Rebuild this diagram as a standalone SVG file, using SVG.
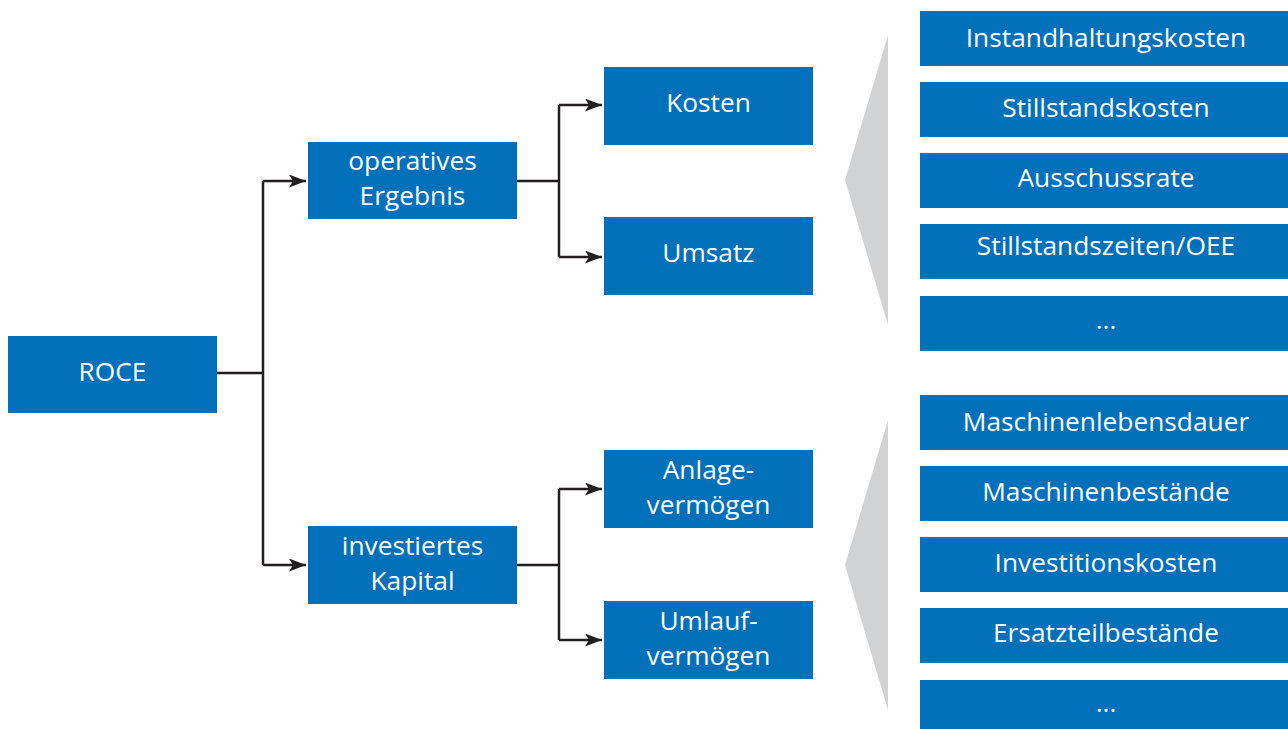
<svg xmlns="http://www.w3.org/2000/svg" width="1288" height="729" viewBox="0 0 1288 729">
<defs>
<style>
.box{fill:#0070BA}
.t{font-family:"Open Sans","Noto Sans","Liberation Sans",sans-serif;font-size:26.3px;fill:#FFFFFF;text-anchor:middle}
.c{fill:none;stroke:#231F20;stroke-width:2.5}
.g{fill:#D1D2D4}
</style>
<marker id="ah" markerUnits="userSpaceOnUse" markerWidth="18" markerHeight="14" refX="17" refY="6.5" orient="auto">
<path d="M0,0 L17,6.5 L0,13 L4,6.5 Z" fill="#231F20"/>
</marker>
</defs>
<rect width="1288" height="729" fill="#FFFFFF"/>
<polygon class="g" points="888,35 845,180 888,325"/>
<polygon class="g" points="888,420 845,565 888,710"/>
<g id="connectors">
<path class="c" d="M217,373 H263"/>
<path class="c" d="M263,181 V565"/>
<path class="c" d="M263,181 H306" marker-end="url(#ah)"/>
<path class="c" d="M263,565 H306" marker-end="url(#ah)"/>
<path class="c" d="M517,181 H559"/>
<path class="c" d="M559,105 V257"/>
<path class="c" d="M559,105 H602" marker-end="url(#ah)"/>
<path class="c" d="M559,257 H602" marker-end="url(#ah)"/>
<path class="c" d="M517,565 H559"/>
<path class="c" d="M559,489 V640"/>
<path class="c" d="M559,489 H602" marker-end="url(#ah)"/>
<path class="c" d="M559,640 H602" marker-end="url(#ah)"/>
</g>
<g id="roce"><rect class="box" x="8" y="336" width="209" height="77"/><text class="t" x="112.5" y="381">ROCE</text></g>
<g id="operatives-ergebnis"><rect class="box" x="308" y="142" width="209" height="77"/><text class="t" x="412.5" y="170">operatives</text><text class="t" x="412.5" y="205">Ergebnis</text></g>
<g id="investiertes-kapital"><rect class="box" x="308" y="526" width="209" height="78"/><text class="t" x="412.5" y="554.5">investiertes</text><text class="t" x="412.5" y="589.5">Kapital</text></g>
<g id="kosten"><rect class="box" x="604" y="67" width="209" height="78"/><text class="t" x="708.5" y="112">Kosten</text></g>
<g id="umsatz"><rect class="box" x="604" y="217" width="209" height="78"/><text class="t" x="708.5" y="262">Umsatz</text></g>
<g id="anlagevermoegen"><rect class="box" x="604" y="450" width="209" height="78"/><text class="t" x="708.5" y="478.5">Anlage-</text><text class="t" x="708.5" y="513.5">vermögen</text></g>
<g id="umlaufvermoegen"><rect class="box" x="604" y="601" width="209" height="78"/><text class="t" x="708.5" y="629.5">Umlauf-</text><text class="t" x="708.5" y="664.5">vermögen</text></g>
<g id="instandhaltungskosten"><rect class="box" x="920" y="11" width="368" height="55"/><text class="t" x="1106" y="47">Instandhaltungskosten</text></g>
<g id="stillstandskosten"><rect class="box" x="920" y="82" width="368" height="55"/><text class="t" x="1106" y="117">Stillstandskosten</text></g>
<g id="ausschussrate"><rect class="box" x="920" y="153" width="368" height="55"/><text class="t" x="1106" y="187">Ausschussrate</text></g>
<g id="stillstandszeiten"><rect class="box" x="920" y="224" width="368" height="55"/><text class="t" x="1106" y="255">Stillstandszeiten/OEE</text></g>
<g id="more1"><rect class="box" x="920" y="296" width="368" height="55"/><text class="t" x="1106" y="329">...</text></g>
<g id="maschinenlebensdauer"><rect class="box" x="920" y="395" width="368" height="55"/><text class="t" x="1106" y="431">Maschinenlebensdauer</text></g>
<g id="maschinenbestaende"><rect class="box" x="920" y="466" width="368" height="55"/><text class="t" x="1106" y="501">Maschinenbestände</text></g>
<g id="investitionskosten"><rect class="box" x="920" y="537" width="368" height="55"/><text class="t" x="1106" y="572">Investitionskosten</text></g>
<g id="ersatzteilbestaende"><rect class="box" x="920" y="608" width="368" height="55"/><text class="t" x="1106" y="642">Ersatzteilbestände</text></g>
<g id="more2"><rect class="box" x="920" y="680" width="368" height="55"/><text class="t" x="1106" y="712">...</text></g>
</svg>
